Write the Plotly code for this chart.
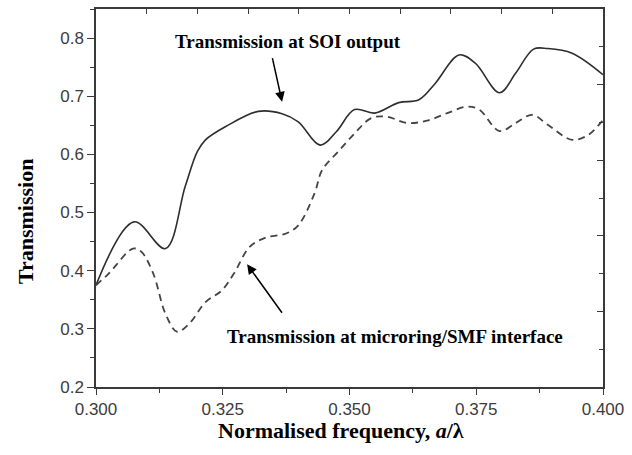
import plotly.graph_objects as go

# Data
x_soi = [0.300, 0.3075, 0.3137, 0.3176, 0.3200, 0.3216, 0.3256, 0.3320, 0.3367, 0.3399,
         0.3442, 0.3474, 0.3510, 0.3550, 0.3597, 0.3637, 0.3669, 0.3716, 0.3748, 0.3796,
         0.3828, 0.3863, 0.3891, 0.3939, 0.4000]
y_soi = [0.375, 0.484, 0.438, 0.545, 0.605, 0.625, 0.648, 0.674, 0.670, 0.656,
         0.616, 0.639, 0.677, 0.671, 0.689, 0.694, 0.722, 0.771, 0.757, 0.706,
         0.740, 0.781, 0.782, 0.774, 0.737]

x_smf = [0.300, 0.3025, 0.3073, 0.3089, 0.3113, 0.3137, 0.3160, 0.3184, 0.3216, 0.3248,
         0.3272, 0.3303, 0.3335, 0.3375, 0.3399, 0.3431, 0.3446, 0.3478, 0.3510, 0.3542,
         0.3573, 0.3613, 0.3653, 0.3693, 0.3732, 0.3756, 0.3796, 0.3828, 0.3860, 0.3891,
         0.3939, 0.3970, 0.4000]
y_smf = [0.375, 0.395, 0.438, 0.433, 0.395, 0.326, 0.295, 0.309, 0.346, 0.366,
         0.395, 0.441, 0.457, 0.464, 0.478, 0.533, 0.573, 0.605, 0.636, 0.662,
         0.665, 0.654, 0.658, 0.671, 0.682, 0.677, 0.640, 0.654, 0.668, 0.651,
         0.625, 0.633, 0.659]

x_ticks = [0.300, 0.325, 0.350, 0.375, 0.400]
x_ticklabels = ["0.300", "0.325", "0.350", "0.375", "0.400"]
y_ticks = [0.2, 0.3, 0.4, 0.5, 0.6, 0.7, 0.8]
y_ticklabels = ["0.2", "0.3", "0.4", "0.5", "0.6", "0.7", "0.8"]

label_soi = "Transmission at SOI output"
label_smf = "Transmission at microring/SMF interface"
x_title = "Normalised frequency, <i>a</i>/λ"
y_title = "Transmission"

line_col = "#2e2e2e"
axis_col = "#3a3a3a"
serif = "Liberation Serif, Times New Roman, serif"
sans = "Liberation Sans, Arial, sans-serif"

fig = go.Figure()
fig.add_trace(go.Scatter(x=x_soi, y=y_soi, mode="lines",
                         line=dict(color=line_col, width=1.6, shape="spline", smoothing=1.0),
                         showlegend=False))
fig.add_trace(go.Scatter(x=x_smf, y=y_smf, mode="lines",
                         line=dict(color="#444444", width=1.8, shape="spline", smoothing=1.0,
                                   dash="7px,5px"),
                         showlegend=False))
# invisible trace to activate secondary axes
fig.add_trace(go.Scatter(x=[0, 1], y=[0, 1], xaxis="x2", yaxis="y2", mode="lines",
                         line=dict(width=0), hoverinfo="skip", showlegend=False, opacity=0))

fig.update_layout(
    width=632, height=455,
    margin=dict(l=96, r=29, t=9, b=68),
    paper_bgcolor="white", plot_bgcolor="white",
    xaxis=dict(range=[0.3, 0.4], tickvals=x_ticks, ticktext=x_ticklabels,
               showgrid=False, zeroline=False, showline=True, linecolor=axis_col, linewidth=1.5,
               ticks="outside", ticklen=6, tickwidth=1.3, tickcolor=axis_col,
               minor=dict(dtick=0.0125, ticks="outside", ticklen=4, tickcolor=axis_col, showgrid=False),
               tickfont=dict(family=sans, size=17, color="#3c3c3c")),
    yaxis=dict(range=[0.2, 0.85], tickvals=y_ticks, ticktext=y_ticklabels,
               showgrid=False, zeroline=False, showline=True, linecolor=axis_col, linewidth=1.5,
               ticks="outside", ticklen=7, tickwidth=1.3, tickcolor=axis_col,
               minor=dict(dtick=0.05, tick0=0.2, ticks="outside", ticklen=4, tickcolor=axis_col, showgrid=False),
               tickfont=dict(family=sans, size=17, color="#3c3c3c")),
    xaxis2=dict(overlaying="x", side="top", range=[0, 1], dtick=0.1, tick0=0,
                showticklabels=False, showgrid=False, zeroline=False, showline=True,
                linecolor=axis_col, linewidth=1.5, ticks="inside", ticklen=5, tickcolor=axis_col),
    yaxis2=dict(overlaying="y", side="right", range=[0, 1], dtick=0.2, tick0=0,
                showticklabels=False, showgrid=False, zeroline=False, showline=True,
                linecolor=axis_col, linewidth=1.5, ticks="inside", ticklen=6, tickcolor=axis_col,
                minor=dict(dtick=0.1, ticks="inside", ticklen=4, tickcolor=axis_col, showgrid=False)),
    annotations=[
        dict(text="<b>" + label_soi + "</b>", x=0.3379, y=0.7935, xref="x", yref="y",
             xanchor="center", yanchor="middle",
             showarrow=False, font=dict(family=serif, size=19, color="black")),
        dict(text="<b>" + label_smf + "</b>", x=0.359, y=0.2875, xref="x", yref="y",
             xanchor="center", yanchor="middle",
             showarrow=False, font=dict(family=serif, size=19, color="black")),
        dict(text="", x=0.3367, y=0.6906, xref="x", yref="y", ax=-10, ay=-45,
             showarrow=True, arrowhead=2, arrowsize=1.3, arrowwidth=1.5, arrowcolor="black"),
        dict(text="", x=0.3298, y=0.411, xref="x", yref="y", ax=36, ay=50,
             showarrow=True, arrowhead=2, arrowsize=1.3, arrowwidth=1.5, arrowcolor="black"),
        dict(text="<b>" + y_title + "</b>", x=-0.140, y=0.439, xref="paper", yref="paper",
             xanchor="center", yanchor="middle",
             textangle=-90, showarrow=False, font=dict(family=serif, size=22, color="black")),
        dict(text="<b>" + x_title + "</b>", x=0.483, y=-0.116, xref="paper", yref="paper",
             xanchor="center", yanchor="middle",
             showarrow=False, font=dict(family=serif, size=22, color="black")),
    ],
)

fig.write_html("out.html")
